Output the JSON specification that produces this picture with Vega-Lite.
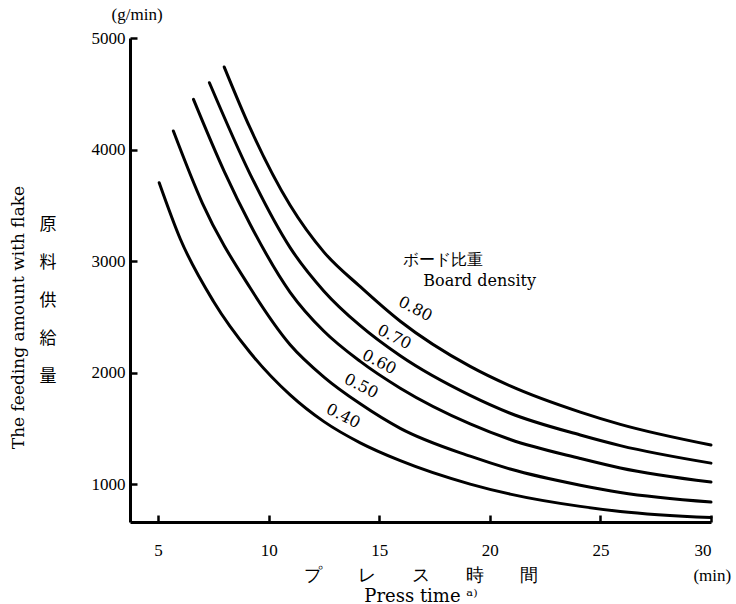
{
  "$schema": "https://vega.github.io/schema/vega-lite/v6.json",
  "width": 581,
  "height": 484,
  "autosize": "none",
  "padding": {"left": 130, "top": 38, "right": 25, "bottom": 82},
  "background": "white",
  "config": {
    "view": {"stroke": null},
    "font": "Liberation Serif",
    "axis": {
      "labelFont": "Liberation Serif",
      "titleFont": "DejaVu Serif",
      "labelColor": "black",
      "titleColor": "black",
      "domainColor": "black",
      "tickColor": "black",
      "grid": false,
      "titleFontWeight": "normal"
    }
  },
  "datasets": {
    "curves": [
      {"density": "0.40", "t": 5.05, "f": 3702},
      {"density": "0.40", "t": 6.0, "f": 3200},
      {"density": "0.40", "t": 7.5, "f": 2640},
      {"density": "0.40", "t": 9.16, "f": 2180},
      {"density": "0.40", "t": 10.97, "f": 1800},
      {"density": "0.40", "t": 12.5, "f": 1560},
      {"density": "0.40", "t": 14.14, "f": 1370},
      {"density": "0.40", "t": 15.95, "f": 1210},
      {"density": "0.40", "t": 19.11, "f": 1000},
      {"density": "0.40", "t": 20.92, "f": 910},
      {"density": "0.40", "t": 24.09, "f": 800},
      {"density": "0.40", "t": 25.9, "f": 755},
      {"density": "0.40", "t": 30.0, "f": 700},
      {"density": "0.50", "t": 5.69, "f": 4166},
      {"density": "0.50", "t": 7.0, "f": 3520},
      {"density": "0.50", "t": 9.16, "f": 2760},
      {"density": "0.50", "t": 10.97, "f": 2250},
      {"density": "0.50", "t": 12.5, "f": 1960},
      {"density": "0.50", "t": 14.14, "f": 1720},
      {"density": "0.50", "t": 15.95, "f": 1500},
      {"density": "0.50", "t": 19.11, "f": 1250},
      {"density": "0.50", "t": 20.92, "f": 1135},
      {"density": "0.50", "t": 24.09, "f": 990},
      {"density": "0.50", "t": 25.9, "f": 925},
      {"density": "0.50", "t": 30.0, "f": 839},
      {"density": "0.60", "t": 6.6, "f": 4450},
      {"density": "0.60", "t": 8.0, "f": 3800},
      {"density": "0.60", "t": 9.16, "f": 3330},
      {"density": "0.60", "t": 10.97, "f": 2720},
      {"density": "0.60", "t": 12.5, "f": 2370},
      {"density": "0.60", "t": 14.14, "f": 2100},
      {"density": "0.60", "t": 15.95, "f": 1860},
      {"density": "0.60", "t": 19.11, "f": 1540},
      {"density": "0.60", "t": 20.92, "f": 1400},
      {"density": "0.60", "t": 24.09, "f": 1230},
      {"density": "0.60", "t": 25.9, "f": 1145},
      {"density": "0.60", "t": 30.0, "f": 1018},
      {"density": "0.70", "t": 7.32, "f": 4599},
      {"density": "0.70", "t": 9.16, "f": 3780},
      {"density": "0.70", "t": 10.97, "f": 3120},
      {"density": "0.70", "t": 12.5, "f": 2730},
      {"density": "0.70", "t": 14.14, "f": 2420},
      {"density": "0.70", "t": 15.95, "f": 2150},
      {"density": "0.70", "t": 19.11, "f": 1795},
      {"density": "0.70", "t": 20.92, "f": 1635},
      {"density": "0.70", "t": 24.09, "f": 1440},
      {"density": "0.70", "t": 25.9, "f": 1345},
      {"density": "0.70", "t": 30.0, "f": 1188},
      {"density": "0.80", "t": 7.99, "f": 4740},
      {"density": "0.80", "t": 9.16, "f": 4193},
      {"density": "0.80", "t": 10.97, "f": 3500},
      {"density": "0.80", "t": 12.5, "f": 3080},
      {"density": "0.80", "t": 14.14, "f": 2770},
      {"density": "0.80", "t": 15.95, "f": 2460},
      {"density": "0.80", "t": 19.11, "f": 2055},
      {"density": "0.80", "t": 20.92, "f": 1880},
      {"density": "0.80", "t": 24.09, "f": 1645},
      {"density": "0.80", "t": 25.9, "f": 1535},
      {"density": "0.80", "t": 30.0, "f": 1350}
    ],
    "curveLabels": [
      {"label": "0.80", "t": 16.63, "f": 2570},
      {"label": "0.70", "t": 15.68, "f": 2318},
      {"label": "0.60", "t": 15.0, "f": 2094},
      {"label": "0.50", "t": 14.18, "f": 1879},
      {"label": "0.40", "t": 13.37, "f": 1610}
    ],
    "notesLeft": [
      {"text": "ボード比重", "t": 16.08, "f": 3009},
      {"text": "Board density", "t": 16.99, "f": 2821}
    ],
    "notesCenter": [
      {"text": "(g/min)", "t": 4.05, "f": 5206},
      {"text": "(min)", "t": 30.06, "f": 175}
    ],
    "verticalTitle": [
      {"text": "原\n料\n供\n給\n量", "t": 0.02, "f": 3323}
    ]
  },
  "layer": [
    {
      "data": {"name": "curves"},
      "mark": {"type": "line", "interpolate": "monotone", "color": "black", "strokeWidth": 3, "strokeCap": "round"},
      "encoding": {
        "x": {
          "field": "t", "type": "quantitative",
          "scale": {"domain": [3.73, 30], "nice": false, "zero": false},
          "axis": {
            "orient": "top",
            "offset": -484,
            "values": [5, 10, 15, 20, 25, 30],
            "domainWidth": 3,
            "ticks": true,
            "tickSize": 7,
            "tickWidth": 2.5,
            "labelFontSize": 17,
            "labelBaseline": "top",
            "labelPadding": -27,
            "title": ["プ　　レ　　ス　　時　　間", "Press time ᵃ⁾"],
            "titleFontSize": 18,
            "titleLineHeight": 21,
            "titleBaseline": "top",
            "titleY": 44
          }
        },
        "y": {
          "field": "f", "type": "quantitative",
          "scale": {"domain": [660, 5000], "nice": false, "zero": false},
          "axis": {
            "orient": "right",
            "offset": -581,
            "values": [1000, 2000, 3000, 4000, 5000],
            "format": "d",
            "domainWidth": 3,
            "ticks": true,
            "tickSize": 7,
            "tickWidth": 2.5,
            "labelFontSize": 17,
            "labelAlign": "right",
            "labelPadding": -12,
            "title": "The feeding amount with flake",
            "titleFontSize": 17,
            "titleAngle": -90,
            "titleX": -112,
            "titleY": 279,
            "titleBaseline": "middle",
            "titleAlign": "center"
          }
        },
        "detail": {"field": "density", "type": "nominal"}
      }
    },
    {
      "data": {"name": "curveLabels"},
      "mark": {"type": "text", "font": "DejaVu Serif", "fontSize": 16, "angle": 27, "align": "center", "baseline": "middle", "color": "black"},
      "encoding": {
        "x": {"field": "t", "type": "quantitative"},
        "y": {"field": "f", "type": "quantitative"},
        "text": {"field": "label"}
      }
    },
    {
      "data": {"name": "notesLeft"},
      "mark": {"type": "text", "font": "DejaVu Serif", "fontSize": 16, "align": "left", "baseline": "middle", "color": "black"},
      "encoding": {
        "x": {"field": "t", "type": "quantitative"},
        "y": {"field": "f", "type": "quantitative"},
        "text": {"field": "text"}
      }
    },
    {
      "data": {"name": "notesCenter"},
      "mark": {"type": "text", "font": "Liberation Serif", "fontSize": 17, "align": "center", "baseline": "middle", "color": "black"},
      "encoding": {
        "x": {"field": "t", "type": "quantitative"},
        "y": {"field": "f", "type": "quantitative"},
        "text": {"field": "text"}
      }
    },
    {
      "data": {"name": "verticalTitle"},
      "mark": {"type": "text", "font": "Noto Sans CJK JP", "fontSize": 17, "lineBreak": "\n", "lineHeight": 38, "align": "center", "baseline": "middle", "color": "black"},
      "encoding": {
        "x": {"field": "t", "type": "quantitative"},
        "y": {"field": "f", "type": "quantitative"},
        "text": {"field": "text"}
      }
    }
  ]
}
